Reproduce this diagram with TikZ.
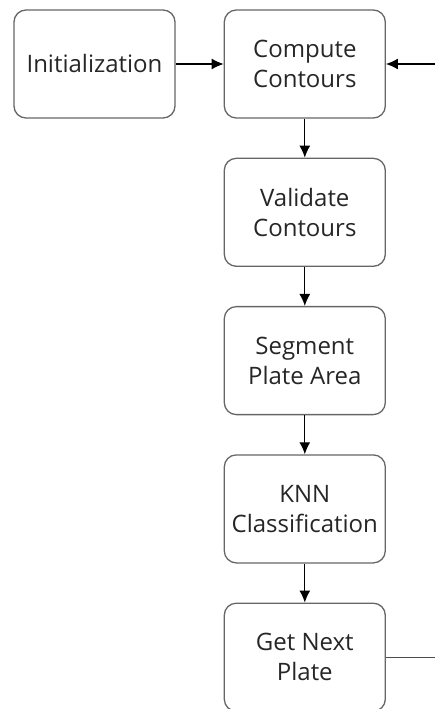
\documentclass[tikz,border=0pt]{standalone}
\usepackage{fontspec}
\setmainfont{Open Sans}
\usetikzlibrary{positioning,arrows.meta}

\begin{document}
\begin{tikzpicture}[
       x=1pt, y=1pt,
       node distance=39pt and 48pt,
       stepbox/.style={rectangle, draw=black!60, line width=1.3pt, minimum width=161pt, minimum height=108pt, align=center, text=black!85, rounded corners=12pt, font=\fontsize{24}{30}\selectfont},
       arrow/.style={-{Latex[length=12pt,width=11pt]}, line width=1.3pt, black}
   ]
   \useasboundingbox (0,0) rectangle (434,-709);
   \node[stepbox] (init) at (94.5,-64) {Initialization};
   \node[stepbox, right=of init] (compute) {Compute\\Contours};
   \node[stepbox, below=of compute] (validate) {Validate\\Contours};
   \node[stepbox, below=of validate] (segment) {Segment\\Plate Area};
   \node[stepbox, below=of segment] (knn) {KNN\\Classification};
   \node[stepbox, below=of knn] (next) {Get Next\\Plate};
   \coordinate[right=49pt of compute] (loopin);
   \coordinate (loopout) at (next.east -| loopin);

   \draw[arrow] (init) -- (compute);
   \draw[arrow] (loopin) -- (compute);
   \draw[arrow] (compute) -- (validate);
   \draw[arrow] (validate) -- (segment);
   \draw[arrow] (segment) -- (knn);
   \draw[arrow] (knn) -- (next);
   \draw[line width=1.3pt, black!70] (next) -- (loopout);
   \end{tikzpicture}
\end{document}
